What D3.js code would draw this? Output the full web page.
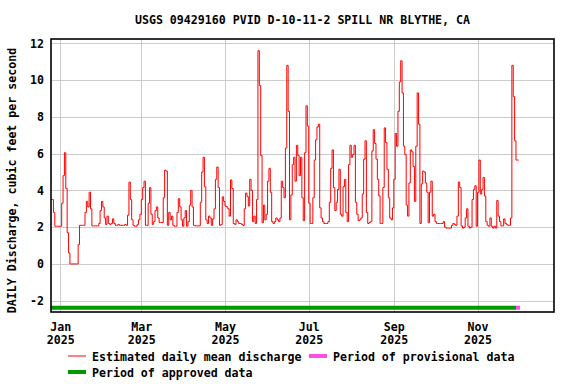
<!DOCTYPE html>
<html>
<head>
<meta charset="utf-8">
<script src="https://cdn.jsdelivr.net/npm/d3@7"></script>
<style>
  body { margin: 0; background: #fff; }
  svg text { font-family: "DejaVu Sans Mono", monospace; font-weight: bold; font-size: 11.6px; fill: #000; }
</style>
</head>
<body>
<div id="chart"></div>
<script>
// Chart text
const chartTitle = "USGS 09429160 PVID D-10-11-2 SPILL NR BLYTHE, CA";
const yTitle = "DAILY Discharge, cubic feet per second";

// Daily mean discharge (cfs), one value per day starting at seriesStart
const seriesStart = "2024-12-25";
const dischargeValues = [
  3.5, 3.5, 2.8, 2.05, 2.05, 2.05, 2.05, 2.05, 3.3, 4.8,
  6.05, 4.1, 1.7, 0.6, 0, 0, 0, 0, 0, 0,
  1.05, 2.1, 2.1, 2.1, 2.1, 2.8, 3.4, 3.1, 3.9, 3.0,
  2.07, 2.07, 2.07, 2.07, 2.07, 2.2, 2.9, 3.4, 3.1, 2.5,
  2.15, 2.6, 2.2, 2.15, 2.2, 2.45, 2.2, 2.1, 2.1, 2.15,
  2.1, 2.1, 2.1, 2.1, 2.15, 2.1, 2.65, 4.45, 3.5, 2.4,
  2.1, 2.05, 2.05, 2.15, 2.4, 2.7, 3.5, 4.15, 4.5, 2.1,
  2.1, 3.3, 4.15, 2.7, 2.15, 2.3, 2.9, 3.1, 2.5, 2.25,
  2.25, 2.25, 3.6, 5.1, 5.05, 2.1, 2.8, 2.4, 2.6, 2.1,
  2.05, 2.05, 2.8, 3.55, 3.1, 2.4, 2.05, 2.5, 2.9, 2.05,
  2.3, 3.2, 4.0, 3.1, 2.1, 2.07, 2.07, 2.07, 2.07, 3.35,
  5.0, 5.8, 4.2, 2.4, 2.2, 2.6, 2.5, 2.1, 2.45, 3.0,
  4.6, 5.27, 4.15, 2.1, 2.15, 3.65, 3.4, 3.15, 3.1, 3.0,
  2.6, 4.57, 4.1, 2.2, 2.15, 2.4, 2.3, 2.2, 2.2, 2.15,
  2.1, 3.0, 3.85, 3.66, 3.15, 4.6, 4.0, 2.3, 2.6, 2.2,
  3.5, 11.6, 9.7, 5.9, 2.25, 3.2, 2.4, 2.7, 4.5, 5.2,
  3.9, 2.3, 2.2, 2.3, 2.5, 2.4, 2.3, 2.5, 4.5, 4.15,
  3.6, 6.3, 10.8, 8.3, 2.4, 3.75, 5.4, 5.8, 4.5, 6.45,
  5.9, 4.8, 5.8, 3.6, 2.35, 6.05, 8.6, 7.5, 3.3, 2.2,
  2.2, 3.6, 5.65, 6.75, 7.45, 7.6, 3.05, 2.5, 2.3, 2.2,
  2.2, 2.2, 2.3, 3.35, 5.2, 6.2, 4.15, 2.9, 3.35, 4.05,
  5.15, 2.7, 2.6, 4.2, 4.6, 2.8, 2.3, 5.4, 6.45, 5.8,
  5.95, 6.45, 3.35, 2.7, 2.35, 2.4, 2.5, 3.8, 5.7, 6.7,
  2.8, 2.2, 2.25, 2.3, 6.15, 7.3, 6.55, 5.7, 4.6, 3.7,
  2.2, 2.2, 4.15, 7.4, 6.6, 5.15, 3.6, 2.5, 2.4, 3.05,
  4.6, 7.1, 6.4, 8.3, 9.9, 11.05, 9.3, 6.4, 5.95, 3.2,
  2.6, 4.4, 6.2, 6.1, 5.3, 3.4, 6.4, 9.3, 7.6, 2.2,
  4.35, 5.05, 5.0, 4.4, 3.9, 2.25, 3.9, 4.5, 2.6, 2.7,
  2.3, 2.2, 2.2, 2.2, 2.2, 2.2, 2.3, 2.0, 1.95, 1.95,
  1.95, 1.95, 2.1, 2.2, 2.15, 2.1, 2.6, 4.45, 4.15, 2.07,
  1.95, 2.0, 2.5, 3.0, 2.05, 1.95, 2.0, 3.5, 4.05, 4.25,
  2.05, 3.9, 5.65, 3.8, 4.05, 4.7, 3.7, 2.3, 2.1, 2.05,
  2.5, 2.05, 1.95, 2.05, 1.95, 3.45, 2.6, 2.3, 2.07, 2.07,
  2.45, 2.2, 2.15, 2.1, 2.1, 2.5, 10.8, 9.1, 6.7, 5.65,
  5.65, 5.65
];

// Axis ticks
const yTicks = [-2, 0, 2, 4, 6, 8, 10, 12];
const xTickDates = ["2025-01-01", "2025-03-01", "2025-05-01", "2025-07-01", "2025-09-01", "2025-11-01"];
const xTickMonths = ["Jan", "Mar", "May", "Jul", "Sep", "Nov"];
const xTickYears = ["2025", "2025", "2025", "2025", "2025", "2025"];

// Data-quality periods
const periodLabels = ["Period of approved data", "Period of provisional data"];
const periodStarts = ["2024-12-25", "2025-11-29"];
const periodEnds = ["2025-11-29", "2025-12-02"];

const lineLabel = "Estimated daily mean discharge";

(function() {
    const margin = {top: 39, right: 22, bottom: 72, left: 51};
    const width = 576 - margin.left - margin.right;
    const height = 384 - margin.top - margin.bottom;

    const parse = d3.utcParse("%Y-%m-%d");
    const DAY = 86400000;
    const jan1 = parse("2025-01-01");

    const lineColor = "#ff0000";
    const periodColors = ["#009900", "#ff4fe0"];

    const data = dischargeValues.map((v, i) => ({
        date: new Date(parse(seriesStart).getTime() + i * DAY),
        value: v
    }));

    const svg = d3.select("#chart")
        .append("svg")
        .attr("width", 576)
        .attr("height", 384);

    const g = svg.append("g")
        .attr("transform", `translate(${margin.left}, ${margin.top})`);

    // Scales
    const xScale = d3.scaleUtc()
        .domain([new Date(jan1.getTime() - 6.78 * DAY), new Date(jan1.getTime() + 359.7 * DAY)])
        .range([0, width]);

    const yScale = d3.scaleLinear()
        .domain([-2.615, 12.234])
        .range([height, 0]);

    // Grid
    g.append("g")
        .selectAll("line")
        .data(yTicks)
        .enter()
        .append("line")
        .attr("x1", 0)
        .attr("x2", width)
        .attr("y1", d => Math.round(yScale(d)) + 0.5)
        .attr("y2", d => Math.round(yScale(d)) + 0.5)
        .attr("stroke", "#cccccc");

    g.append("g")
        .selectAll("line")
        .data(xTickDates)
        .enter()
        .append("line")
        .attr("x1", d => Math.round(xScale(parse(d))) + 0.5)
        .attr("x2", d => Math.round(xScale(parse(d))) + 0.5)
        .attr("y1", 0)
        .attr("y2", height)
        .attr("stroke", "#cccccc");

    // Clip for the line
    svg.append("defs").append("clipPath")
        .attr("id", "plot-clip")
        .append("rect")
        .attr("width", width)
        .attr("height", height);

    // Discharge line
    const line = d3.line()
        .x(d => xScale(d.date))
        .y(d => yScale(d.value))
        .curve(d3.curveStepAfter);

    g.append("path")
        .datum(data)
        .attr("clip-path", "url(#plot-clip)")
        .attr("fill", "none")
        .attr("stroke", lineColor)
        .attr("stroke-width", 1)
        .attr("d", line);

    // Period bars near the bottom
    const barY = yScale(-2.38);
    g.append("g")
        .selectAll("line")
        .data(periodLabels)
        .enter()
        .append("line")
        .attr("x1", (d, i) => xScale(parse(periodStarts[i])))
        .attr("x2", (d, i) => xScale(parse(periodEnds[i])))
        .attr("y1", barY)
        .attr("y2", barY)
        .attr("stroke", (d, i) => periodColors[i])
        .attr("stroke-width", 4);

    // Frame
    g.append("rect")
        .attr("width", width)
        .attr("height", height)
        .attr("fill", "none")
        .attr("stroke", "#000")
        .attr("stroke-width", 1.6);

    // Y axis labels
    const yAxis = d3.axisLeft(yScale)
        .tickValues(yTicks)
        .tickFormat(d => String(d))
        .tickSize(0)
        .tickPadding(7);

    const yAxisG = g.append("g").call(yAxis);
    yAxisG.select(".domain").remove();
    yAxisG.selectAll("text")
        .attr("font-family", null)
        .attr("font-size", null);

    // X axis labels (month + year on two lines)
    const xAxis = d3.axisBottom(xScale)
        .tickValues(xTickDates.map(parse))
        .tickSize(0)
        .tickFormat((d, i) => xTickMonths[i]);

    const xAxisG = g.append("g")
        .attr("transform", `translate(0, ${height})`)
        .call(xAxis);
    xAxisG.select(".domain").remove();
    xAxisG.attr("font-family", null).attr("font-size", null);
    xAxisG.selectAll(".tick text")
        .each(function(d, i) {
            const t = d3.select(this);
            t.text(null).attr("y", 0).attr("dy", null);
            t.append("tspan").attr("x", 0).attr("y", 18.5).text(xTickMonths[i]);
            t.append("tspan").attr("x", 0).attr("y", 31.5).text(xTickYears[i]);
        });

    // Title
    svg.append("text")
        .attr("x", margin.left + width / 2)
        .attr("y", 24)
        .attr("text-anchor", "middle")
        .text(chartTitle);

    // Y title
    svg.append("text")
        .attr("transform", "translate(16, 180.5) rotate(-90)")
        .attr("text-anchor", "middle")
        .text(yTitle);

    // Legend
    const legend = svg.append("g");
    const legendItems = [
        {label: lineLabel, color: lineColor, w: 1, x: 68, y: 356},
        {label: periodLabels[1], color: periodColors[1], w: 4, x: 309, y: 356},
        {label: periodLabels[0], color: periodColors[0], w: 4, x: 68, y: 372}
    ];
    legendItems.forEach(item => {
        legend.append("line")
            .attr("x1", item.x)
            .attr("x2", item.x + 18)
            .attr("y1", item.y)
            .attr("y2", item.y)
            .attr("stroke", item.color)
            .attr("stroke-width", item.w);
        legend.append("text")
            .attr("x", item.x + 24)
            .attr("y", item.y + 4.5)
            .text(item.label);
    });
})();
</script>
</body>
</html>
